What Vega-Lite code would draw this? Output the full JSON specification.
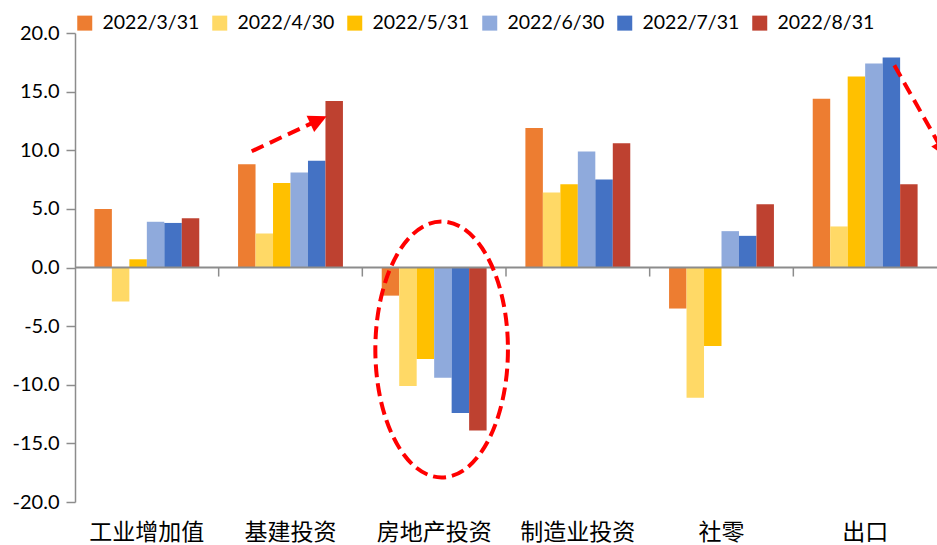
{
  "$schema": "https://vega.github.io/schema/vega-lite/v6.json",
  "width": 862,
  "height": 469,
  "autosize": {"type": "none"},
  "padding": {"left": 75, "top": 33, "right": 0, "bottom": 43},
  "background": "white",
  "config": {"view": {"stroke": null}},
  "layer": [
    {
      "data": {
        "values": [
          {"cat": "工业增加值", "s": "2022/3/31", "v": 5.0},
          {"cat": "工业增加值", "s": "2022/4/30", "v": -2.9},
          {"cat": "工业增加值", "s": "2022/5/31", "v": 0.7},
          {"cat": "工业增加值", "s": "2022/6/30", "v": 3.9},
          {"cat": "工业增加值", "s": "2022/7/31", "v": 3.8},
          {"cat": "工业增加值", "s": "2022/8/31", "v": 4.2},
          {"cat": "基建投资", "s": "2022/3/31", "v": 8.8},
          {"cat": "基建投资", "s": "2022/4/30", "v": 2.9},
          {"cat": "基建投资", "s": "2022/5/31", "v": 7.2},
          {"cat": "基建投资", "s": "2022/6/30", "v": 8.1},
          {"cat": "基建投资", "s": "2022/7/31", "v": 9.1},
          {"cat": "基建投资", "s": "2022/8/31", "v": 14.2},
          {"cat": "房地产投资", "s": "2022/3/31", "v": -2.4},
          {"cat": "房地产投资", "s": "2022/4/30", "v": -10.1},
          {"cat": "房地产投资", "s": "2022/5/31", "v": -7.8},
          {"cat": "房地产投资", "s": "2022/6/30", "v": -9.4},
          {"cat": "房地产投资", "s": "2022/7/31", "v": -12.4},
          {"cat": "房地产投资", "s": "2022/8/31", "v": -13.9},
          {"cat": "制造业投资", "s": "2022/3/31", "v": 11.9},
          {"cat": "制造业投资", "s": "2022/4/30", "v": 6.4},
          {"cat": "制造业投资", "s": "2022/5/31", "v": 7.1},
          {"cat": "制造业投资", "s": "2022/6/30", "v": 9.9},
          {"cat": "制造业投资", "s": "2022/7/31", "v": 7.5},
          {"cat": "制造业投资", "s": "2022/8/31", "v": 10.6},
          {"cat": "社零", "s": "2022/3/31", "v": -3.5},
          {"cat": "社零", "s": "2022/4/30", "v": -11.1},
          {"cat": "社零", "s": "2022/5/31", "v": -6.7},
          {"cat": "社零", "s": "2022/6/30", "v": 3.1},
          {"cat": "社零", "s": "2022/7/31", "v": 2.7},
          {"cat": "社零", "s": "2022/8/31", "v": 5.4},
          {"cat": "出口", "s": "2022/3/31", "v": 14.4},
          {"cat": "出口", "s": "2022/4/30", "v": 3.5},
          {"cat": "出口", "s": "2022/5/31", "v": 16.3},
          {"cat": "出口", "s": "2022/6/30", "v": 17.4},
          {"cat": "出口", "s": "2022/7/31", "v": 17.9},
          {"cat": "出口", "s": "2022/8/31", "v": 7.1}
        ]
      },
      "mark": {"type": "bar"},
      "encoding": {
        "x": {
          "field": "cat",
          "type": "nominal",
          "sort": ["工业增加值", "基建投资", "房地产投资", "制造业投资", "社零", "出口"],
          "scale": {"paddingInner": 0.27, "paddingOuter": 0.135},
          "axis": {
            "title": null,
            "orient": "bottom",
            "domain": false,
            "ticks": false,
            "labelAngle": 0,
            "labelFont": "Noto Sans CJK SC",
            "labelFontSize": 23,
            "labelColor": "#000000",
            "labelPadding": 19,
            "labelBaseline": "top"
          }
        },
        "xOffset": {
          "field": "s",
          "type": "nominal",
          "sort": ["2022/3/31", "2022/4/30", "2022/5/31", "2022/6/30", "2022/7/31", "2022/8/31"],
          "scale": {"paddingInner": 0, "paddingOuter": 0}
        },
        "y": {
          "field": "v",
          "type": "quantitative",
          "title": null,
          "scale": {"domain": [-20, 20], "nice": false, "zero": false},
          "axis": {
            "title": null,
            "values": [-20, -15, -10, -5, 0, 5, 10, 15, 20],
            "labelExpr": "(datum.value < 0 ? '-' : '') + format(abs(datum.value), '.1f')",
            "labelFont": "Lato",
            "labelFontSize": 20,
            "labelColor": "#000000",
            "labelPadding": 7,
            "tickSize": 9,
            "tickColor": "#8C8C8C",
            "tickWidth": 1.5,
            "domainColor": "#8C8C8C",
            "domainWidth": 1.5,
            "grid": false
          }
        },
        "color": {
          "field": "s",
          "type": "nominal",
          "sort": ["2022/3/31", "2022/4/30", "2022/5/31", "2022/6/30", "2022/7/31", "2022/8/31"],
          "scale": {
            "domain": ["2022/3/31", "2022/4/30", "2022/5/31", "2022/6/30", "2022/7/31", "2022/8/31"],
            "range": ["#ED7D31", "#FFD966", "#FFC000", "#8FAADC", "#4472C4", "#BE4130"]
          },
          "legend": {
            "title": null,
            "orient": "top",
            "direction": "horizontal",
            "offset": 0,
            "padding": 0,
            "symbolType": "square",
            "symbolSize": 225,
            "symbolStrokeWidth": 0,
            "symbolOpacity": 1,
            "labelFont": "Lato",
            "labelFontSize": 19.5,
            "labelColor": "#000000",
            "labelOffset": 8,
            "columnPadding": 10
          }
        }
      }
    },
    {
      "layer": [
        {
          "data": {"values": [{"y0": 0}]},
          "mark": {"type": "rule", "color": "#8C8C8C", "strokeWidth": 1.8},
          "encoding": {
            "y": {"field": "y0", "type": "quantitative", "title": null, "scale": {"domain": [-20, 20], "nice": false, "zero": false}}
          }
        },
        {
          "data": {"values": [{"tx": 1}, {"tx": 2}, {"tx": 3}, {"tx": 4}, {"tx": 5}]},
          "mark": {"type": "rule", "color": "#8C8C8C", "strokeWidth": 1.5},
          "encoding": {
            "x": {"field": "tx", "type": "quantitative", "scale": {"domain": [0, 6], "nice": false, "zero": false}, "axis": null},
            "y": {"datum": 0, "type": "quantitative", "title": null},
            "y2": {"datum": -0.77}
          }
        },
        {
          "data": {
            "values": [
              {"id": "a", "ax": 1.230, "ay": 9.91},
              {"id": "a", "ax": 1.664, "ay": 12.40},
              {"id": "b", "ax": 5.703, "ay": 17.25},
              {"id": "b", "ax": 6.015, "ay": 10.49}
            ]
          },
          "mark": {"type": "line", "color": "#FF0000", "strokeWidth": 4, "strokeDash": [13, 7], "strokeCap": "butt"},
          "encoding": {
            "x": {"field": "ax", "type": "quantitative", "scale": {"domain": [0, 6], "nice": false, "zero": false}, "axis": null},
            "y": {"field": "ay", "type": "quantitative", "title": null},
            "detail": {"field": "id", "type": "nominal"}
          }
        },
        {
          "data": {
            "values": [
              {"hx": 1.752, "hy": 12.90, "ang": -25},
              {"hx": 6.076, "hy": 9.35, "ang": 60.75}
            ]
          },
          "mark": {"type": "point", "shape": "M 0 0 L -1 -0.5 L -1 0.5 Z", "filled": true, "color": "#FF0000", "size": 1296, "opacity": 1},
          "encoding": {
            "x": {"field": "hx", "type": "quantitative", "scale": {"domain": [0, 6], "nice": false, "zero": false}, "axis": null},
            "y": {"field": "hy", "type": "quantitative", "title": null},
            "angle": {"field": "ang", "type": "quantitative", "scale": null}
          }
        },
        {
          "data": {"values": [{"ex": 2.552, "ey": -6.99}]},
          "mark": {
            "type": "point",
            "shape": "M 0.518 0 C 0.518 0.552 0.286 1 0 1 C -0.286 1 -0.518 0.552 -0.518 0 C -0.518 -0.552 -0.286 -1 0 -1 C 0.286 -1 0.518 -0.552 0.518 0 Z",
            "filled": false,
            "stroke": "#FF0000",
            "strokeWidth": 4,
            "strokeDash": [13, 6],
            "size": 65536,
            "opacity": 1
          },
          "encoding": {
            "x": {"field": "ex", "type": "quantitative", "scale": {"domain": [0, 6], "nice": false, "zero": false}, "axis": null},
            "y": {"field": "ey", "type": "quantitative", "title": null}
          }
        }
      ]
    }
  ],
  "resolve": {"scale": {"x": "independent"}}
}
